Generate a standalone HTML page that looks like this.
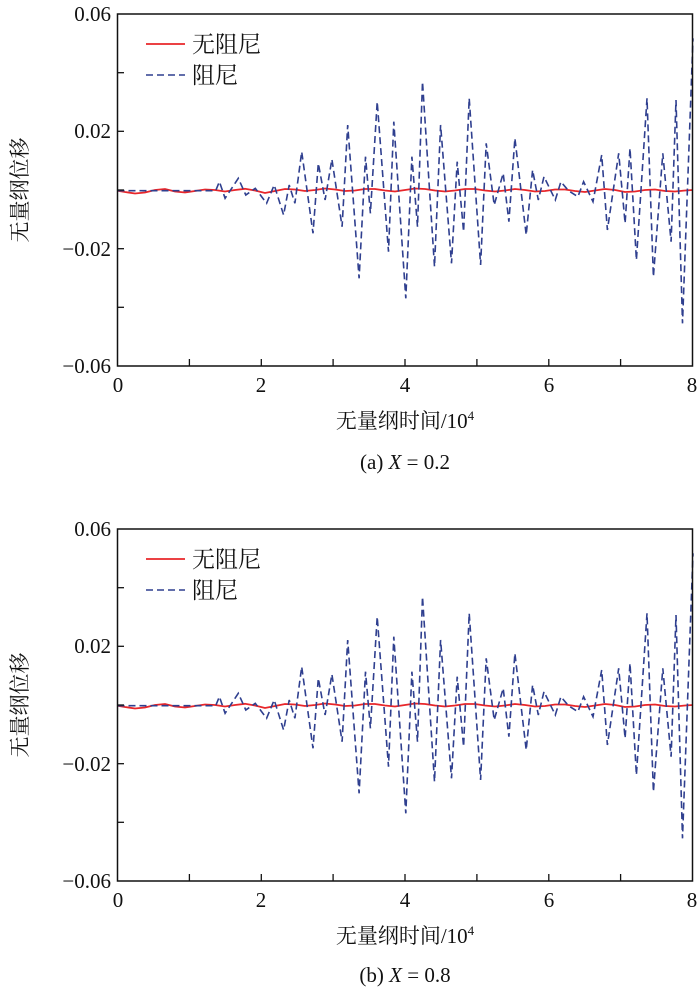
<!DOCTYPE html>
<html><head><meta charset="utf-8"><style>
html,body{margin:0;padding:0;background:#fff;}
svg{display:block;}
text{font-family:"Liberation Serif","Noto Serif CJK SC","Noto Sans CJK SC",serif;fill:#111;}
</style></head><body>
<svg width="700" height="987" viewBox="0 0 700 987" xmlns="http://www.w3.org/2000/svg">
<defs>
<g id="plot">
<polyline fill="none" stroke="#e8262a" stroke-width="1.8" points="117.5,190.7 125,192 135,193.5 145,192.5 155,190 165,189 175,191.5 185,192.5 195,191 205,189.5 215,190 225,191.5 235,190 245,188.8 255,190.5 265,193 275,191 285,189 295,189.5 305,191 315,190 325,188.5 335,189.5 345,191 355,190.5 365,189 375,189 385,190.5 395,191.5 405,190 415,188.5 425,189 435,190.5 445,191.5 455,190.5 465,189 475,189 485,190.5 495,191.5 505,190.5 515,189 525,190 535,191.5 545,191 555,189.5 565,189.5 575,191 585,192 595,190.5 605,189 615,190 625,192 635,191.5 645,190 655,189.5 665,191 675,191.5 685,190.5 693,190"/>
<polyline fill="none" stroke="#2f3f8f" stroke-width="1.6" stroke-dasharray="7,4" points="117.5,190.7 215.7,190.7 219.4,181.7 225.1,198.3 238.3,178.3 245.8,195 255.3,188.3 266.6,203.3 274.2,185 283.6,215 289.2,185 294.9,203.3 301.7,151.7 313,233.3 318.3,163.3 325.1,200 331.9,159.3 342.1,226.7 347.7,125 359.1,278.3 365.5,156.7 370.4,213.3 377.2,101.7 388.5,251.7 393.8,121.7 405.8,298.3 411.9,156.7 417.5,226.7 422.5,81.7 434.5,266.7 440.6,125 451.5,263.3 457.2,161.7 463.6,231.7 469.2,98.3 480.6,265 486.2,143.3 494.2,205 503.2,173.3 508.9,221.7 514.9,138.3 526.2,235 532.6,170 538.3,200 544,176.7 555.3,200 560.9,181.7 568.5,190.7 577.9,196.7 583.6,181.7 593,201.7 601.7,155 607.4,230 618.7,153.3 625.1,223.3 630,148.3 636.4,260 647,98.3 653.4,276.7 662.8,153.3 671.1,241.7 676,100 682.5,323.3 693,38.3"/>
<rect x="117.5" y="14" width="575" height="352" fill="none" stroke="#111" stroke-width="1.5"/>
<g stroke="#111" stroke-width="1.3">
<line x1="117.5" y1="72.7" x2="124" y2="72.7"/><line x1="117.5" y1="131.3" x2="124" y2="131.3"/>
<line x1="117.5" y1="190" x2="124" y2="190"/><line x1="117.5" y1="248.7" x2="124" y2="248.7"/>
<line x1="117.5" y1="307.3" x2="124" y2="307.3"/>
<line x1="189.4" y1="366" x2="189.4" y2="359"/><line x1="261.3" y1="366" x2="261.3" y2="359"/>
<line x1="333.1" y1="366" x2="333.1" y2="359"/><line x1="405" y1="366" x2="405" y2="359"/>
<line x1="476.9" y1="366" x2="476.9" y2="359"/><line x1="548.8" y1="366" x2="548.8" y2="359"/>
<line x1="620.6" y1="366" x2="620.6" y2="359"/>
</g>
<line x1="146" y1="44" x2="185" y2="44" stroke="#e8262a" stroke-width="1.8"/>
<line x1="146" y1="75" x2="185" y2="75" stroke="#2f3f8f" stroke-width="1.6" stroke-dasharray="7,4"/>
</g>
</defs>

<use href="#plot"/>
<use href="#plot" transform="translate(0,515)"/>

<g font-size="21">
<!-- panel a -->
<text x="111" y="21" text-anchor="end">0.06</text>
<text x="111" y="138" text-anchor="end">0.02</text>
<text x="111" y="256" text-anchor="end">−0.02</text>
<text x="111" y="373" text-anchor="end">−0.06</text>
<text x="118" y="392" text-anchor="middle">0</text>
<text x="261" y="392" text-anchor="middle">2</text>
<text x="405" y="392" text-anchor="middle">4</text>
<text x="549" y="392" text-anchor="middle">6</text>
<text x="692" y="392" text-anchor="middle">8</text>
<text x="192" y="52" font-size="23">无阻尼</text>
<text x="192" y="83" font-size="23">阻尼</text>
<text x="405" y="428" text-anchor="middle">无量纲时间/10<tspan font-size="13" dy="-8">4</tspan></text>
<text x="405" y="469" text-anchor="middle">(a) <tspan font-style="italic">X</tspan> = 0.2</text>
<text transform="translate(27,190) rotate(-90)" text-anchor="middle">无量纲位移</text>
<!-- panel b -->
<text x="111" y="536" text-anchor="end">0.06</text>
<text x="111" y="653" text-anchor="end">0.02</text>
<text x="111" y="771" text-anchor="end">−0.02</text>
<text x="111" y="888" text-anchor="end">−0.06</text>
<text x="118" y="907" text-anchor="middle">0</text>
<text x="261" y="907" text-anchor="middle">2</text>
<text x="405" y="907" text-anchor="middle">4</text>
<text x="549" y="907" text-anchor="middle">6</text>
<text x="692" y="907" text-anchor="middle">8</text>
<text x="192" y="567" font-size="23">无阻尼</text>
<text x="192" y="598" font-size="23">阻尼</text>
<text x="405" y="943" text-anchor="middle">无量纲时间/10<tspan font-size="13" dy="-8">4</tspan></text>
<text x="405" y="982" text-anchor="middle">(b) <tspan font-style="italic">X</tspan> = 0.8</text>
<text transform="translate(27,705) rotate(-90)" text-anchor="middle">无量纲位移</text>
</g>
</svg>
</body></html>
